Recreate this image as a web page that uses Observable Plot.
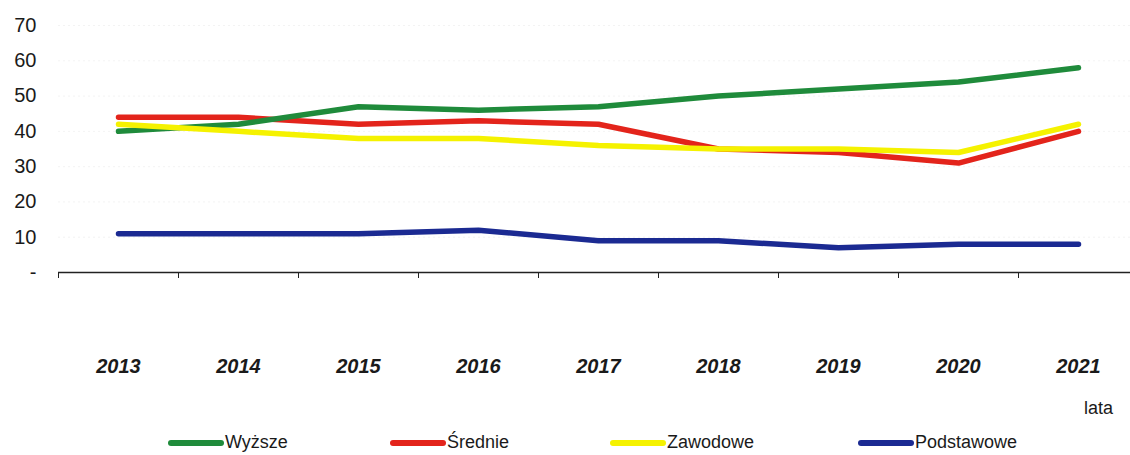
<!DOCTYPE html>
<html>
<head>
<meta charset="utf-8">
<script src="https://cdn.jsdelivr.net/npm/d3@7"></script>
<script src="https://cdn.jsdelivr.net/npm/@observablehq/plot@0.6"></script>
<style>
  html, body { margin: 0; padding: 0; background: #fff; }
  #wrap { position: relative; width: 1130px; height: 455px; font-family: "Liberation Sans", Arial, sans-serif; color: #1a1a1a; }
  #chart { position: absolute; left: 0; top: 0; }
  .lata { position: absolute; left: 1084px; top: 398px; font-size: 18px; }
  .leg { position: absolute; top: 432px; display: flex; align-items: center; font-size: 18px; }
  .leg .sw { width: 56px; height: 6px; border-radius: 3px; margin-right: 1px; }
</style>
</head>
<body>
<div id="wrap">
  <div id="chart"></div>
  <div class="lata">lata</div>
</div>
<script>
const years = [2013, 2014, 2015, 2016, 2017, 2018, 2019, 2020, 2021];
const seriesNames = ["Wyższe", "Średnie", "Zawodowe", "Podstawowe"];
const wyzsze     = [40, 42, 47, 46, 47, 50, 52, 54, 58];
const srednie    = [44, 44, 42, 43, 42, 35, 34, 31, 40];
const zawodowe   = [42, 40, 38, 38, 36, 35, 35, 34, 42];
const podstawowe = [11, 11, 11, 12, 9, 9, 7, 8, 8];
const yTicks = [0, 10, 20, 30, 40, 50, 60, 70];
const colors = ["#1f8b3b", "#e3241b", "#f5f200", "#1b2a92"];
const legendLeft = [168, 390, 610, 858];

const valuesBySeries = [wyzsze, srednie, zawodowe, podstawowe];
const rows = [];
seriesNames.forEach((s, i) => years.forEach((yr, j) => rows.push({series: s, year: yr, value: valuesBySeries[i][j]})));
const drawOrder = ["Średnie", "Wyższe", "Zawodowe", "Podstawowe"];
const bounds = years.map(y => y - 0.5);

const plot = Plot.plot({
  width: 1130,
  height: 420,
  marginTop: 25,
  marginBottom: 148,
  marginLeft: 58,
  marginRight: 0,
  style: {fontFamily: "Liberation Sans, Arial, sans-serif", color: "#1a1a1a", background: "#fff"},
  x: {domain: [2012.5, 2021.5], range: [58, 1138]},
  y: {domain: [0, 70]},
  color: {domain: seriesNames, range: colors},
  marks: [
    Plot.gridY(yTicks.filter(d => d > 0), {stroke: "#e4e4e4", strokeOpacity: 0.45, strokeDasharray: "2,3"}),
    Plot.axisY({ticks: yTicks, tickSize: 0, tickPadding: 22, tickFormat: d => d === 0 ? "-" : String(d), fontSize: 20, label: null}),
    Plot.ruleY([0], {stroke: "#222", strokeWidth: 1.3}),
    Plot.axisX({ticks: bounds, tickSize: 6, tickFormat: () => "", label: null, stroke: "#222"}),
    Plot.axisX({ticks: years, tickSize: 0, tickPadding: 86, tickFormat: d => String(d), fontSize: 20, fontWeight: "bold", fontStyle: "italic", label: null}),
    ...drawOrder.map(s => Plot.line(rows.filter(r => r.series === s), {
      x: "year", y: "value", stroke: "series", strokeWidth: 5.5, curve: "linear", strokeLinecap: "round", strokeLinejoin: "round"
    }))
  ]
});
document.getElementById("chart").appendChild(plot);

const wrap = document.getElementById("wrap");
seriesNames.forEach((s, i) => {
  const item = document.createElement("div");
  item.className = "leg";
  item.style.left = legendLeft[i] + "px";
  const sw = document.createElement("div");
  sw.className = "sw";
  sw.style.background = colors[i];
  const t = document.createElement("span");
  t.textContent = s;
  item.appendChild(sw);
  item.appendChild(t);
  wrap.appendChild(item);
});
</script>
</body>
</html>
